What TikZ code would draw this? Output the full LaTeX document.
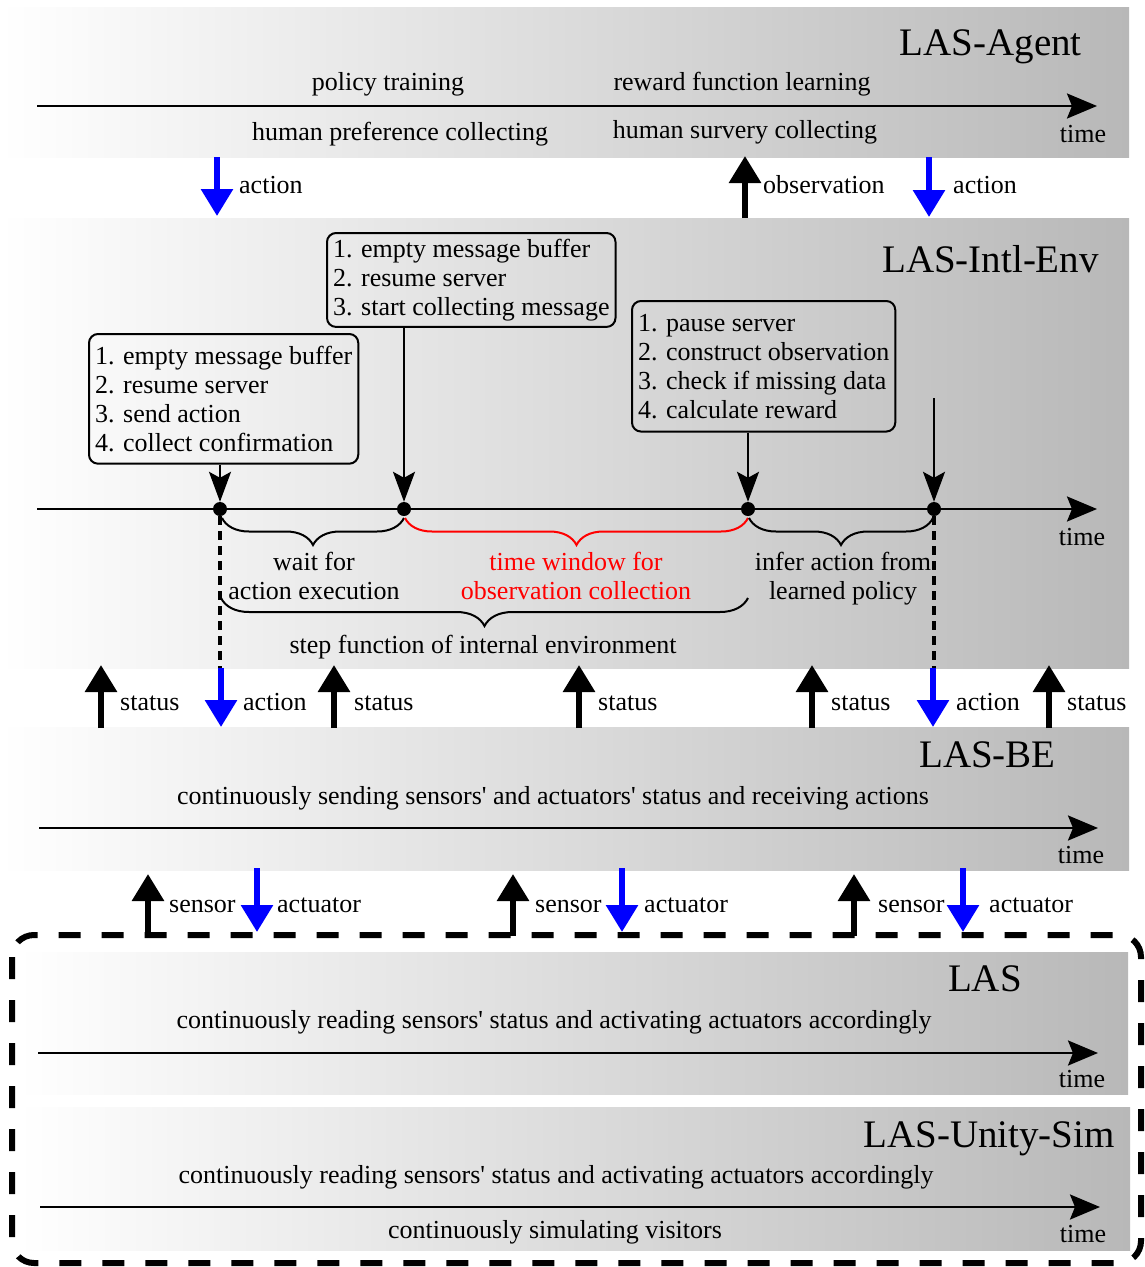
\documentclass[tikz,border=0pt]{standalone}
\usepackage{fontspec}
\setmainfont{Liberation Serif}
\usetikzlibrary{arrows.meta,decorations.pathreplacing,calc}
\definecolor{bandgray}{RGB}{184,184,184}
\definecolor{flowblue}{RGB}{0,0,255}
\definecolor{windowred}{RGB}{255,0,0}

\begin{document}
\begin{tikzpicture}[x=1pt,y=-1pt,
  lbl/.style={font=\fontsize{26}{29}\selectfont, inner sep=0pt, anchor=base},
  lblw/.style={lbl, anchor=base west},
  ttl/.style={font=\fontsize{39}{44}\selectfont, inner sep=0pt, anchor=base east},
  band/.style={left color=white, right color=bandgray},
  timeline/.style={line width=2.5pt, -{Stealth[length=30pt,width=25pt,inset=5pt]}},
  upflow/.style={line width=6pt, -{Triangle[length=27pt,width=31pt]}},
  downflow/.style={upflow, flowblue},
  stepbox/.style={draw, line width=2pt, rounded corners=9pt, align=left, inner xsep=6pt,
    inner ysep=6pt, anchor=north west, font=\fontsize{26}{29}\selectfont},
  event/.style={circle, fill, inner sep=0pt, minimum size=14pt},
  cue/.style={line width=2pt, -{Stealth[length=30pt,width=22pt,inset=6pt]}},
  bracedown/.style={decorate, decoration={brace, mirror, amplitude=27pt}, line width=2pt},
  steptrace/.style={line width=4.5pt, dash pattern=on 9pt off 6pt},
  phase/.style={lbl, align=center, anchor=north},
]
\useasboundingbox (0,0) rectangle (1144,1267);

% ---------- bands ----------
\shade[band] (0,7) rectangle (1129,157);
\shade[band] (0,218) rectangle (1129,668);
\shade[band] (0,727) rectangle (1129,870);
\shade[band] (18,952) rectangle (1128,1094);
\shade[band] (18,1107) rectangle (1130,1250);

% ---------- LAS-Agent ----------
\node[ttl] (agent) at (1082,55) {LAS-Agent};
\coordinate (t1s) at (37,106);
\coordinate (t1e) at (1097,106);
\draw[timeline] (t1s) -- (t1e);
\node[lbl] (pt) at (388,90) {policy training};
\node[lbl] (rfl) at (742,90) {reward function learning};
\node[lbl] (hpc) at (400,140) {human preference collecting};
\node[lbl] (hsc) at (745,138) {human survery collecting};
\node[lbl] (time1) at (1083,142) {time};

% ---------- agent <-> internal environment ----------
\coordinate (a1s) at (217,157);  \coordinate (a1e) at (217,216);
\coordinate (o1s) at (745,218);  \coordinate (o1e) at (745,156);
\coordinate (a2s) at (929,157);  \coordinate (a2e) at (929,217);
\draw[downflow] (a1s) -- (a1e);
\draw[upflow] (o1s) -- (o1e);
\draw[downflow] (a2s) -- (a2e);
\node[lblw] (a1l) at (239,193) {action};
\node[lblw] (o1l) at (763,193) {observation};
\node[lblw] (a2l) at (953,193) {action};

% ---------- LAS-Intl-Env ----------
\node[ttl] (intl) at (1099,272) {LAS-Intl-Env};
\node[stepbox] (boxA) at (326,232) {1. empty message buffer\\2. resume server\\3. start collecting message};
\node[stepbox, inner ysep=12pt] (boxB) at (88,333) {1. empty message buffer\\2. resume server\\3. send action\\4. collect confirmation};
\node[stepbox, inner ysep=13pt] (boxC) at (631,300) {1. pause server\\2. construct observation\\3. check if missing data\\4. calculate reward};

\coordinate (t2s) at (37,509);
\coordinate (t2e) at (1097,509);
\draw[timeline] (t2s) -- (t2e);
\node[lbl] (time2) at (1082,545) {time};

\node[event] (e1) at (220,509) {};
\node[event] (e2) at (404,509) {};
\node[event] (e3) at (748,509) {};
\node[event] (e4) at (934,509) {};
\coordinate (cue4) at (934,398);

\draw[cue] (boxB.south -| e1) -- (e1);
\draw[cue] (boxA.south -| e2) -- (e2);
\draw[cue] (boxC.south -| e3) -- (e3);
\draw[cue] (cue4) -- (e4);

% step boundaries reaching down to the back end
\coordinate (s1) at (220,668);
\coordinate (s4) at (934,668);
\draw[steptrace] (e1.south) -- (s1);
\draw[steptrace] (e4.south) -- (s4);

% phases of one step
\draw[bracedown] (222,518) -- (404,518);
\draw[bracedown, windowred] (405,518) -- (748,518);
\draw[bracedown] (749,518) -- (933,518);
\draw[bracedown, decoration={amplitude=28pt}] (221,598) -- (748,598);
\node[phase] (ph1) at (314,552) {wait for\\action execution};
\node[phase, text=windowred] (ph2) at (576,552) {time window for\\observation collection};
\node[phase] (ph3) at (843,552) {infer action from\\learned policy};
\node[lbl] (stepfn) at (483,653) {step function of internal environment};

% ---------- internal environment <-> back end ----------
\foreach \x/\n in {101/1, 334/2, 579/3, 812/4, 1049/5} {
  \coordinate (st\n s) at (\x,728);
  \coordinate (st\n e) at (\x,665);
  \draw[upflow] (st\n s) -- (st\n e);
}
\coordinate (ba1s) at (221,668); \coordinate (ba1e) at (221,727);
\coordinate (ba2s) at (933,668); \coordinate (ba2e) at (933,727);
\draw[downflow] (ba1s) -- (ba1e);
\draw[downflow] (ba2s) -- (ba2e);
\node[lblw] (st1l) at (120,710) {status};
\node[lblw] (ba1l) at (243,710) {action};
\node[lblw] (st2l) at (354,710) {status};
\node[lblw] (st3l) at (598,710) {status};
\node[lblw] (st4l) at (831,710) {status};
\node[lblw] (ba2l) at (956,710) {action};
\node[lblw] (st5l) at (1067,710) {status};

% ---------- LAS-BE ----------
\node[ttl] (be) at (1056,767) {LAS-BE};
\node[lbl] (betxt) at (553,804) {continuously sending sensors\textquotesingle{} and actuators\textquotesingle{} status and receiving actions};
\coordinate (t3s) at (39,828);
\coordinate (t3e) at (1098,828);
\draw[timeline] (t3s) -- (t3e);
\node[lbl] (time3) at (1081,863) {time};

% ---------- physical / simulated installation ----------
\draw[line width=6pt, dash pattern=on 22pt off 21pt, rounded corners=22pt] (12,935) rectangle (1141,1263);

\node[ttl] (las) at (1022,991) {LAS};
\node[lbl] (lastxt) at (554,1028) {continuously reading sensors\textquotesingle{} status and activating actuators accordingly};
\coordinate (t4s) at (38,1053);
\coordinate (t4e) at (1098,1053);
\draw[timeline] (t4s) -- (t4e);
\node[lbl] (time4) at (1082,1087) {time};

\node[ttl] (sim) at (1115,1147) {LAS-Unity-Sim};
\node[lbl] (simtxt) at (556,1183) {continuously reading sensors\textquotesingle{} status and activating actuators accordingly};
\coordinate (t5s) at (40,1207);
\coordinate (t5e) at (1100,1207);
\draw[timeline] (t5s) -- (t5e);
\node[lbl] (simvis) at (555,1238) {continuously simulating visitors};
\node[lbl] (time5) at (1083,1242) {time};

% ---------- back end <-> installation ----------
\foreach \sx/\ax/\n in {148/257/1, 513/622/2, 854/963/3} {
  \coordinate (se\n s) at (\sx,936);
  \coordinate (se\n e) at (\sx,874);
  \coordinate (ac\n s) at (\ax,868);
  \coordinate (ac\n e) at (\ax,932);
  \draw[upflow] (se\n s) -- (se\n e);
  \draw[downflow] (ac\n s) -- (ac\n e);
}
\node[lblw] (se1l) at (169,912) {sensor};
\node[lblw] (ac1l) at (277,912) {actuator};
\node[lblw] (se2l) at (535,912) {sensor};
\node[lblw] (ac2l) at (644,912) {actuator};
\node[lblw] (se3l) at (878,912) {sensor};
\node[lblw] (ac3l) at (989,912) {actuator};
\end{tikzpicture}
\end{document}
